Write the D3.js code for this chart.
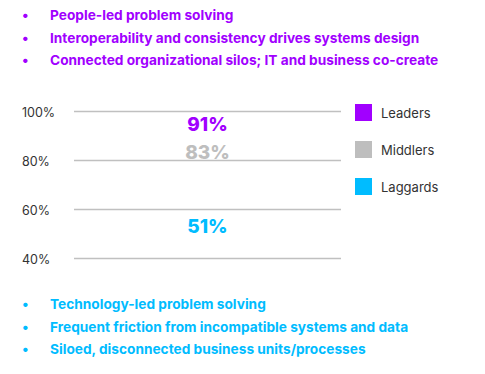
<!DOCTYPE html>
<html>
<head>
<meta charset="utf-8">
<script src="https://cdn.jsdelivr.net/npm/d3@7"></script>
<style>
  body { margin: 0; background: #fff; }
  text { font-family: Inter, "Open Sans", sans-serif; }
</style>
</head>
<body>
<div id="chart"></div>
<script>
// data
const groups = ['Leaders', 'Middlers', 'Laggards'];
const values = [91, 83, 51];
const colors = ['#a100ff', '#bebebe', '#00bcff'];
const yTicks = [40, 60, 80, 100];
const topBullets = [
  'People-led problem solving',
  'Interoperability and consistency drives systems design',
  'Connected organizational silos; IT and business co-create'
];
const bottomBullets = [
  'Technology-led problem solving',
  'Frequent friction from incompatible systems and data',
  'Siloed, disconnected business units/processes'
];

const width = 485, height = 374;
const svg = d3.select('#chart').append('svg')
  .attr('width', width)
  .attr('height', height);

// bullet lists
function drawBullets(lines, top, color) {
  const g = svg.append('g').attr('transform', `translate(0,${top})`);
  const rows = g.selectAll('g').data(lines).enter().append('g')
    .attr('transform', (d, i) => `translate(0,${i * 22.5})`);
  rows.append('text')
    .attr('x', 22)
    .attr('fill', color)
    .style('font-size', '14px')
    .style('font-weight', 700)
    .text('•');
  rows.append('text')
    .attr('x', 50)
    .attr('fill', color)
    .style('font-size', '13.7px')
    .style('font-weight', 700)
    .text(d => d);
}
drawBullets(topBullets, 20, colors[0]);
drawBullets(bottomBullets, 309, colors[2]);

// plot
const x0 = 74, x1 = 341;
const y = d3.scaleLinear().domain([40, 100]).range([258, 111]);

const axis = d3.axisLeft(y)
  .tickValues(yTicks)
  .tickSize(-(x1 - x0))
  .tickFormat(d => d + '%');

const ax = svg.append('g')
  .attr('transform', `translate(${x0},0)`)
  .call(axis);
ax.select('.domain').remove();
ax.selectAll('.tick line')
  .attr('stroke', '#c0c0c0')
  .attr('stroke-width', 1.6);
ax.selectAll('.tick text')
  .attr('x', 22 - x0)
  .attr('dy', '0.4em')
  .attr('text-anchor', 'start')
  .attr('fill', '#333')
  .style('font-size', '12.5px');

// value labels, pushed apart when they would collide
const minGap = 28;
const labelY = values.map(d => y(d) - 5);
for (let i = 1; i < labelY.length; i++) {
  const gap = labelY[i] - labelY[i - 1];
  if (gap < minGap) {
    const shift = (minGap - gap) / 2;
    labelY[i - 1] -= shift;
    labelY[i] += shift;
  }
}
svg.selectAll('.val').data(values).enter().append('text')
  .attr('class', 'val')
  .attr('x', (x0 + x1) / 2)
  .attr('y', (d, i) => labelY[i])
  .attr('dy', '0.35em')
  .attr('text-anchor', 'middle')
  .attr('fill', (d, i) => colors[i])
  .style('font-size', '19px')
  .style('font-weight', 800)
  .text(d => d + '%');

// legend
const legend = svg.append('g').attr('transform', 'translate(355,104)');
const items = legend.selectAll('g').data(groups).enter().append('g')
  .attr('transform', (d, i) => `translate(0,${i * 37})`);
items.append('rect')
  .attr('width', 17)
  .attr('height', 17)
  .attr('fill', (d, i) => colors[i]);
items.append('text')
  .attr('x', 26)
  .attr('y', 9)
  .attr('dy', '0.35em')
  .attr('fill', '#333')
  .style('font-size', '13px')
  .text(d => d);
</script>
</body>
</html>
